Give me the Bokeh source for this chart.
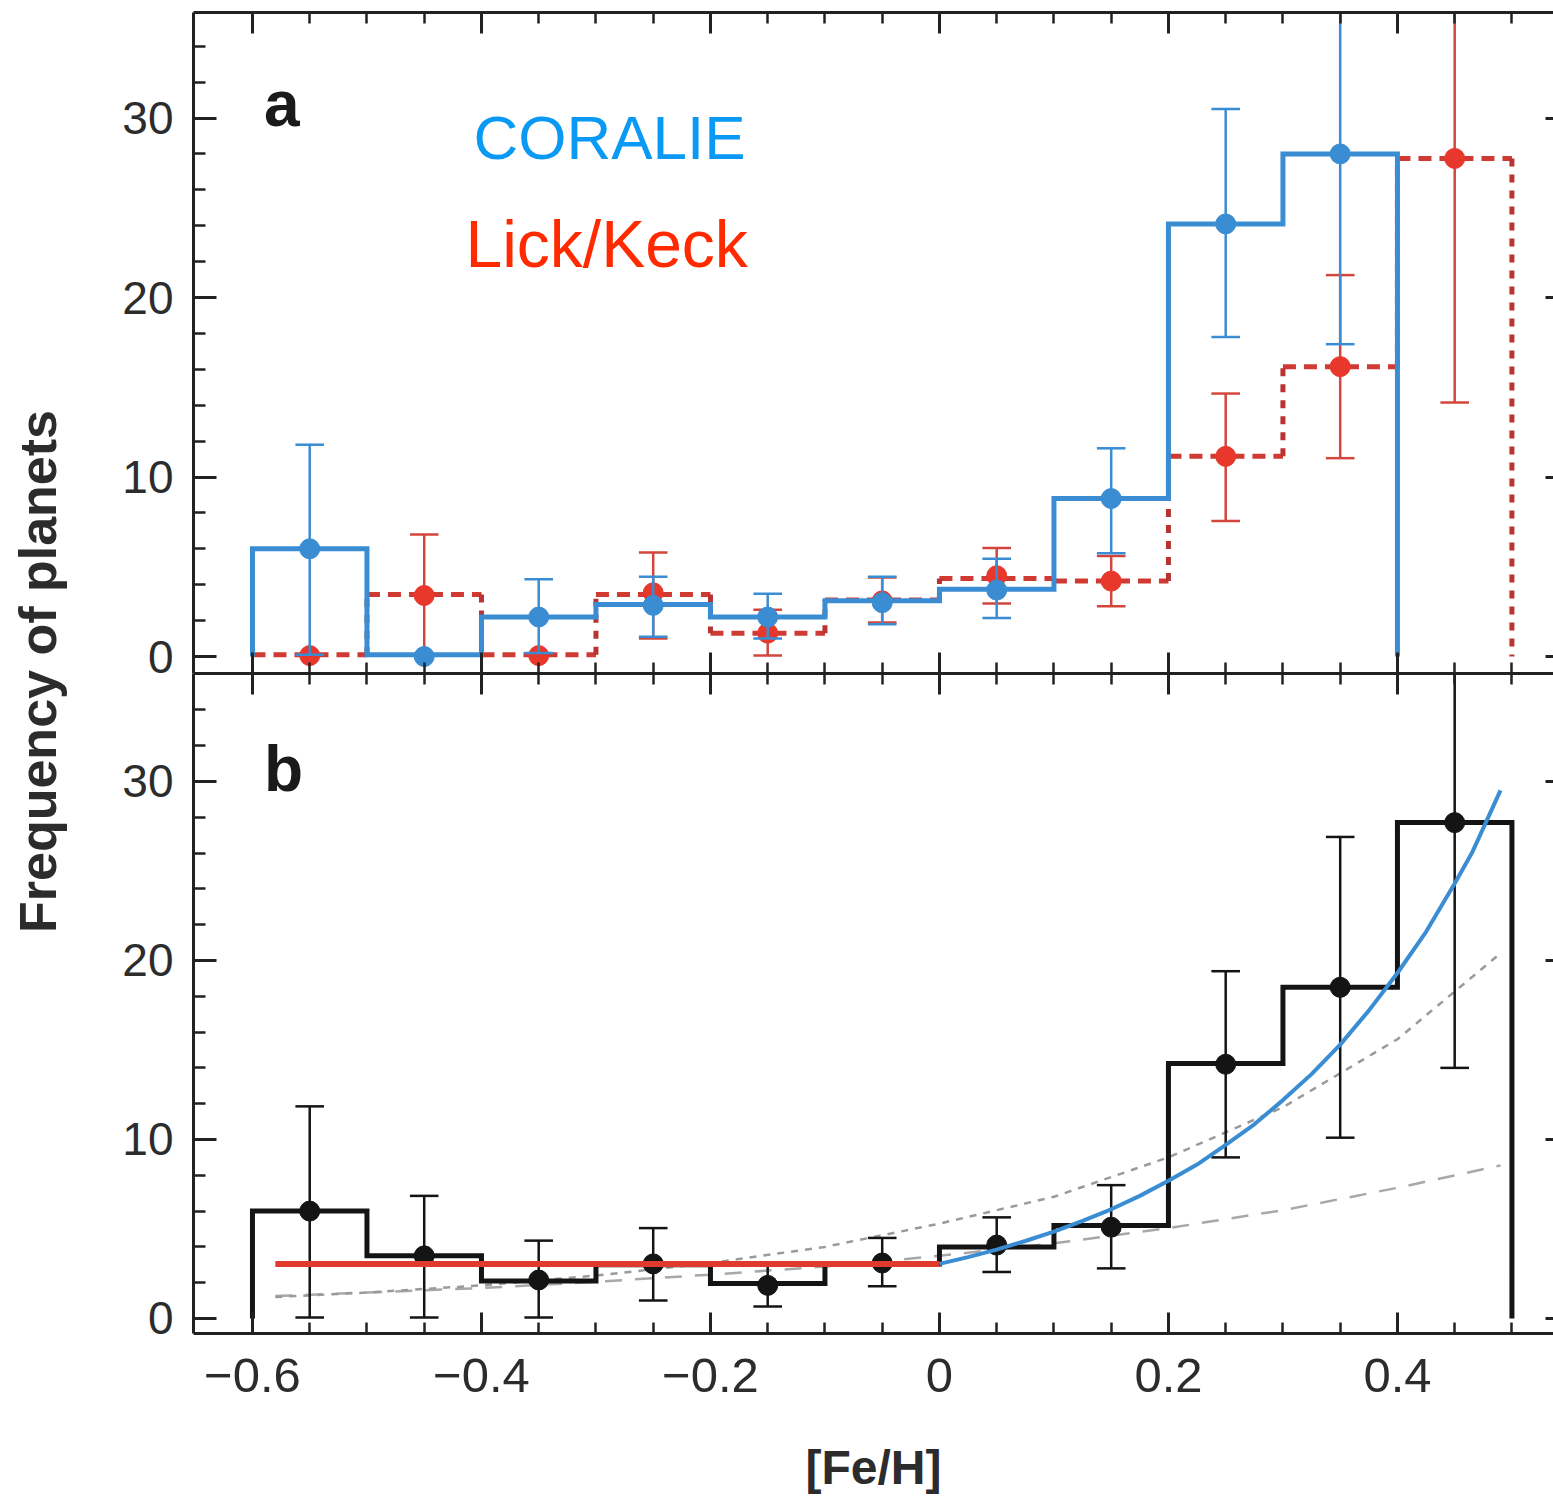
import numpy as np
from bokeh.plotting import figure
from bokeh.models import Range1d, FixedTicker, LinearAxis, CustomLabelingPolicy, GridBox
from bokeh.layouts import row
from bokeh.embed import file_html
from bokeh.resources import INLINE
from bokeh.core.properties import value

# ---------------- data ----------------
bin_edges = [-0.6, -0.5, -0.4, -0.3, -0.2, -0.1, 0.0, 0.1, 0.2, 0.3, 0.4, 0.5]
bin_centers = [-0.55, -0.45, -0.35, -0.25, -0.15, -0.05, 0.05, 0.15, 0.25, 0.35, 0.45]

# panel a: CORALIE (10 bins, -0.6 .. 0.4)
coralie_level = [6.0, 0.1, 2.2, 2.9, 2.2, 3.1, 3.75, 8.8, 24.1, 28.0]
coralie_point = [6.0, 0.0, 2.2, 2.85, 2.2, 3.0, 3.7, 8.8, 24.1, 28.0]
coralie_lo = [0.1, 0.0, 0.2, 1.1, 1.0, 1.8, 2.15, 5.75, 17.8, 17.4]
coralie_hi = [11.8, 0.0, 4.3, 4.45, 3.5, 4.45, 5.45, 11.6, 30.5, 40.0]

# panel a: Lick/Keck (11 bins, -0.6 .. 0.5)
lick_level = [0.1, 3.45, 0.1, 3.45, 1.3, 3.15, 4.35, 4.2, 11.15, 16.15, 27.75]
lick_point = [0.05, 3.4, 0.05, 3.55, 1.3, 3.1, 4.5, 4.2, 11.15, 16.15, 27.75]
lick_lo = [0.05, 0.1, 0.05, 1.0, 0.05, 1.9, 2.95, 2.8, 7.55, 11.05, 14.15]
lick_hi = [0.05, 6.8, 0.05, 5.8, 2.6, 4.4, 6.05, 5.6, 14.65, 21.25, 40.0]

# panel b: combined (11 bins)
comb_level = [6.0, 3.5, 2.1, 3.0, 1.95, 3.05, 4.0, 5.2, 14.25, 18.5, 27.7]
comb_point = [6.0, 3.5, 2.15, 3.05, 1.85, 3.1, 4.1, 5.1, 14.2, 18.5, 27.7]
comb_lo = [0.05, 0.05, 0.05, 1.0, 0.67, 1.8, 2.6, 2.8, 9.0, 10.1, 14.0]
comb_hi = [11.85, 6.85, 4.35, 5.05, 3.0, 4.5, 5.65, 7.45, 19.4, 26.9, 40.0]

# panel b: flat fit (red) and rising fit (blue)
flat_x = [-0.58, 0.0]
flat_y = [3.05, 3.05]
rise_x = [0.0, 0.025, 0.05, 0.075, 0.1, 0.125, 0.15, 0.175, 0.2, 0.225, 0.25,
          0.275, 0.3, 0.325, 0.35, 0.375, 0.4, 0.425, 0.45, 0.465, 0.49]
rise_y = [3.05, 3.43, 3.85, 4.33, 4.85, 5.45, 6.1, 6.85, 7.7, 8.6, 9.7,
          10.85, 12.2, 13.65, 15.3, 17.2, 19.3, 21.6, 24.3, 26.0, 29.5]

# panel b: grey comparison curves
grey_x = [-0.58, -0.5, -0.4, -0.3, -0.2, -0.1, 0.0, 0.1, 0.2, 0.3, 0.4, 0.49]
grey_short_y = [1.2, 1.45, 1.85, 2.4, 3.1, 4.0, 5.3, 6.8, 9.0, 11.8, 15.6, 20.4]
grey_long_y = [1.25, 1.45, 1.7, 2.05, 2.45, 2.9, 3.5, 4.2, 5.05, 6.05, 7.3, 8.55]

x_major = [-0.6, -0.4, -0.2, 0.0, 0.2, 0.4]
x_labels = {-0.6: "\u22120.6", -0.4: "\u22120.4", -0.2: "\u22120.2", 0.0: "0", 0.2: "0.2", 0.4: "0.4"}
x_minor = [-0.55, -0.5, -0.45, -0.35, -0.3, -0.25, -0.15, -0.1, -0.05,
           0.05, 0.1, 0.15, 0.25, 0.3, 0.35, 0.45, 0.5]
y_major = [0, 10, 20, 30]
y_minor = [2, 4, 6, 8, 12, 14, 16, 18, 22, 24, 26, 28, 32, 34]

# ---------------- style ----------------
FONT = "Liberation Sans"
AX = "#222222"
BLUE = "#3a8dd3"
RED_PT = "#e8382c"
RED_H = "#cf3a33"
RED_V = "#b83331"
BLACK = "#141414"
XR = (-0.6515, 0.5363)
TOP_YR = (-0.947, 35.88)
BOT_YR = (-0.838, 36.03)
CAP = 0.0125
OVL = 16  # the upper canvas reaches this far under the lower one


def step_path(edges, levels):
    xs = [edges[0]]
    ys = [0.0]
    for i, v in enumerate(levels):
        xs += [edges[i], edges[i + 1]]
        ys += [v, v]
    xs.append(edges[len(levels)])
    ys.append(0.0)
    return xs, ys


def style_axis(ax, labels):
    ax.axis_line_width = 3
    ax.axis_line_color = AX
    ax.major_tick_line_width = 3
    ax.major_tick_line_color = AX
    ax.minor_tick_line_width = 2.5
    ax.minor_tick_line_color = AX
    ax.major_tick_out = 0
    ax.minor_tick_out = 0
    ax.major_label_text_font = FONT
    ax.major_label_text_color = "#2c2c2c"
    if not labels:
        ax.major_label_text_font_size = "0px"
        ax.major_label_standoff = 0
        ax.major_label_policy = CustomLabelingPolicy(code="return []")


def add_axes(p, bottom_labels):
    la = LinearAxis(ticker=FixedTicker(ticks=y_major, minor_ticks=y_minor))
    style_axis(la, True)
    la.major_tick_in = 23
    la.minor_tick_in = 12
    la.major_label_text_font_size = "46px"
    la.major_label_standoff = 20
    p.add_layout(la, "left")
    ra = LinearAxis(ticker=FixedTicker(ticks=y_major, minor_ticks=[]))
    style_axis(ra, False)
    ra.axis_line_color = None
    ra.major_tick_in = 8
    p.add_layout(ra, "right")
    ta = LinearAxis(ticker=FixedTicker(ticks=x_major, minor_ticks=x_minor))
    style_axis(ta, False)
    ta.major_tick_in = 21
    ta.minor_tick_in = 11
    p.add_layout(ta, "above")
    ba = LinearAxis(ticker=FixedTicker(ticks=x_major, minor_ticks=x_minor))
    style_axis(ba, bottom_labels)
    ba.major_tick_in = 21
    ba.minor_tick_in = 11
    if bottom_labels:
        ba.major_label_overrides = x_labels
        ba.major_label_text_font_size = "49px"
        ba.major_label_standoff = 25
        ba.axis_label = "[Fe/H]"
        ba.axis_label_text_font = FONT
        ba.axis_label_text_font_style = "bold"
        ba.axis_label_text_font_size = "48px"
        ba.axis_label_text_color = "#2c2c2c"
        ba.axis_label_standoff = 46
    p.add_layout(ba, "below")


def error_bars(p, xs, lo, hi, ytop, color, width=2.5):
    p.segment(x0=xs, x1=xs, y0=lo, y1=hi, line_color=color, line_width=width)
    cx, cy = [], []
    for x, l, h in zip(xs, lo, hi):
        if h - l <= 0.01:
            continue
        for yv in (l, h):
            if yv < ytop:
                cx.append(x)
                cy.append(yv)
    p.segment(x0=[x - CAP for x in cx], x1=[x + CAP for x in cx], y0=cy, y1=cy,
              line_color=color, line_width=width)


# ---------------- y label strip ----------------
lab = figure(width=100, height=1500, x_range=Range1d(0, 100), y_range=Range1d(0, 1500),
             toolbar_location=None, output_backend="svg", min_border=0,
             x_axis_location=None, y_axis_location=None)
lab.grid.visible = False
lab.outline_line_color = None
lab.text(x=[37], y=[1500 - 671], text=["Frequency of planets"], angle=np.pi / 2,
         text_align="center", text_baseline="middle", text_font=value(FONT),
         text_font_style="bold", text_font_size="52px", text_color="#2c2c2c")

# ---------------- panel a ----------------
top = figure(width=1453, height=673 + OVL, x_range=Range1d(*XR), y_range=Range1d(*TOP_YR),
             toolbar_location=None, output_backend="svg",
             min_border_left=93, min_border_right=0, min_border_top=12, min_border_bottom=OVL,
             x_axis_location=None, y_axis_location=None)
top.grid.visible = False
top.outline_line_color = None
add_axes(top, False)

n_l = len(lick_level)
top.segment(x0=bin_edges[:n_l], x1=bin_edges[1:n_l + 1], y0=lick_level, y1=lick_level,
            line_color=RED_H, line_width=5, line_dash="13 8")
vx = bin_edges[1:n_l + 1]
vy0 = lick_level
vy1 = lick_level[1:] + [0.0]
top.segment(x0=vx, x1=vx, y0=vy0, y1=vy1, line_color=RED_V, line_width=5, line_dash="8 8")
error_bars(top, bin_centers[:n_l], lick_lo, lick_hi, TOP_YR[1], "#d2463c")
top.scatter(bin_centers[:n_l], lick_point, size=20, color=RED_PT)

n_c = len(coralie_level)
sx, sy = step_path(bin_edges, coralie_level)
top.line(sx, sy, line_color=BLUE, line_width=5, line_join="miter")
error_bars(top, bin_centers[:n_c], coralie_lo, coralie_hi, TOP_YR[1], BLUE)
top.scatter(bin_centers[:n_c], coralie_point, size=20, color=BLUE)

top.text(x=[-0.59], y=[30.8], text=["a"], text_font=value(FONT), text_font_style="bold",
         text_font_size="64px", text_color="#1a1a1a", text_baseline="alphabetic")
top.text(x=[-0.407], y=[28.9], text=["CORALIE"], text_font=value(FONT),
         text_font_size="62px", text_color="#0a99f5", text_baseline="alphabetic")
top.text(x=[-0.414], y=[23.0], text=["Lick/Keck"], text_font=value(FONT),
         text_font_size="66px", text_color="#ff2a00", text_baseline="alphabetic")

# ---------------- panel b ----------------
bot = figure(width=1453, height=827, x_range=Range1d(*XR), y_range=Range1d(*BOT_YR),
             toolbar_location=None, output_backend="svg",
             min_border_left=93, min_border_right=0, min_border_top=0, min_border_bottom=167,
             x_axis_location=None, y_axis_location=None)
bot.grid.visible = False
bot.outline_line_color = None
add_axes(bot, True)

bot.line(grey_x, grey_long_y, line_color="#a8a8a8", line_width=2.5, line_dash="17 13")
bot.line(grey_x, grey_short_y, line_color="#9a9a9a", line_width=2.5, line_dash="7 7")

bx, by = step_path(bin_edges, comb_level)
bot.line(bx, by, line_color=BLACK, line_width=5, line_join="miter")
error_bars(bot, bin_centers, comb_lo, comb_hi, BOT_YR[1], BLACK)
bot.scatter(bin_centers, comb_point, size=20, color=BLACK)

bot.line(flat_x, flat_y, line_color="#e03a2e", line_width=6)
bot.line(rise_x, rise_y, line_color=BLUE, line_width=4)

bot.text(x=[-0.59], y=[30.7], text=["b"], text_font=value(FONT), text_font_style="bold",
         text_font_size="64px", text_color="#1a1a1a", text_baseline="alphabetic")

panels = GridBox(children=[(top, 0, 0, 2, 1), (bot, 1, 0, 2, 1)],
                 rows=["673px", f"{OVL}px", f"{827 - OVL}px"], cols=["1453px"],
                 spacing=0)
layout = row(lab, panels)
open("out.html", "w").write(file_html(layout, INLINE))
